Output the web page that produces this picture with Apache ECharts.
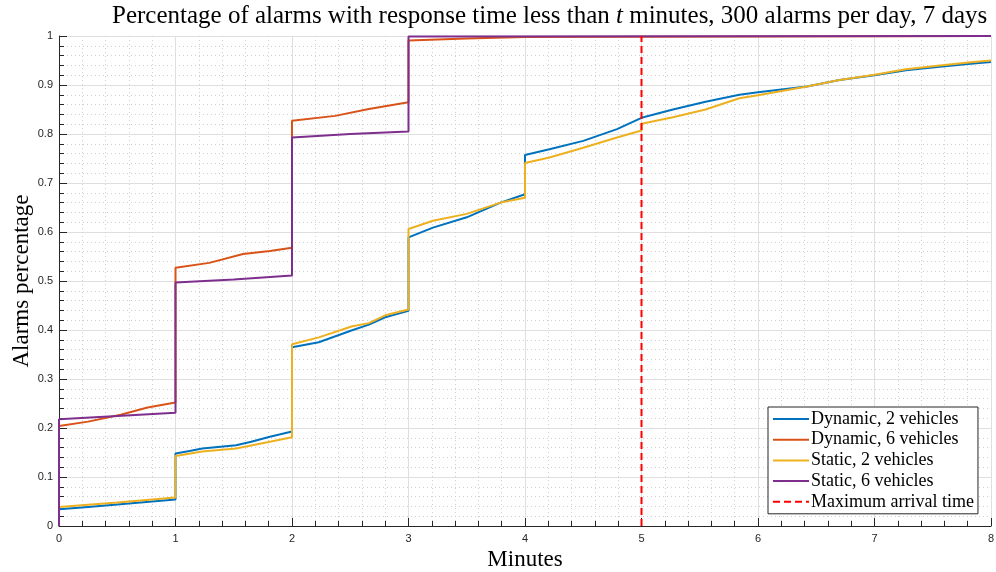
<!DOCTYPE html>
<html>
<head>
<meta charset="utf-8">
<script src="https://cdn.jsdelivr.net/npm/echarts@6/dist/echarts.min.js"></script>
<style>html,body{margin:0;padding:0;background:#fff}#c{width:996px;height:572px}</style>
</head>
<body>
<div id="c"></div>
<script>
const seriesNames = ['Dynamic, 2 vehicles','Dynamic, 6 vehicles','Static, 2 vehicles','Static, 6 vehicles','Maximum arrival time'];
const xTicks = [0,1,2,3,4,5,6,7,8];
const yTicks = [0,0.1,0.2,0.3,0.4,0.5,0.6,0.7,0.8,0.9,1];

const dynamic2 = [[0,0],[0,0.034],[0.25,0.039],[0.5,0.044],[0.75,0.049],[1,0.054],[1,0.148],[1.12,0.153],[1.23,0.158],[1.52,0.165],[1.65,0.172],[1.81,0.182],[2,0.193],[2,0.365],[2.23,0.375],[2.51,0.399],[2.66,0.411],[2.8,0.426],[3,0.439],[3,0.589],[3.21,0.609],[3.5,0.63],[3.79,0.66],[4,0.677],[4,0.757],[4.21,0.769],[4.5,0.786],[4.79,0.81],[5,0.833],[5.27,0.85],[5.55,0.866],[5.84,0.88],[6,0.885],[6.42,0.897],[6.7,0.91],[7,0.92],[7.27,0.93],[7.56,0.937],[7.85,0.944],[8,0.947]];
const dynamic6 = [[0,0],[0,0.204],[0.25,0.213],[0.53,0.227],[0.76,0.242],[1,0.252],[1,0.527],[1.29,0.537],[1.58,0.555],[1.81,0.561],[2,0.568],[2,0.827],[2.37,0.837],[2.66,0.851],[3,0.865],[3,0.991],[3.5,0.995],[4,0.998],[4,1],[8,1]];
const static2 = [[0,0],[0,0.039],[0.5,0.048],[1,0.058],[1,0.143],[1.23,0.152],[1.52,0.158],[1.81,0.172],[2,0.181],[2,0.371],[2.23,0.385],[2.51,0.407],[2.66,0.414],[2.8,0.43],[3,0.442],[3,0.606],[3.21,0.623],[3.5,0.637],[3.79,0.66],[4,0.67],[4,0.741],[4.21,0.752],[4.5,0.772],[4.79,0.793],[5,0.807],[5,0.821],[5.27,0.834],[5.55,0.85],[5.84,0.873],[6,0.879],[6.3,0.892],[6.42,0.897],[6.7,0.91],[7,0.921],[7.27,0.932],[7.56,0.94],[7.85,0.947],[8,0.95]];
const static6 = [[0,0],[0,0.218],[1,0.231],[1,0.497],[1.5,0.503],[2,0.511],[2,0.793],[2.5,0.8],[3,0.805],[3,0.999],[8,1]];
const maxArrival = [[5,0],[5,1]];

const colors = ['#0072BD','#D95319','#EDB120','#7E2F8E','#FF0000'];
const dataSets = [dynamic2, dynamic6, static2, static6, maxArrival];

const chart = echarts.init(document.getElementById('c'), null, {renderer:'canvas'});
const serif = '"Liberation Serif", "DejaVu Serif", serif';
const sans = '"Liberation Sans", Arial, sans-serif';

chart.setOption({
  animation: false,
  backgroundColor: '#fff',
  title: {
    text: 'Percentage of alarms with response time less than {i|t} minutes, 300 alarms per day, 7 days',
    left: 107, top: -1,
    textStyle: {fontFamily: serif, fontSize: 25, fontWeight: 'normal', color: '#000',
      rich: {i: {fontFamily: serif, fontSize: 25, fontStyle: 'italic', color: '#000'}}}
  },
  legend: {
    orient: 'vertical',
    left: 768, top: 407,
    width: 210,
    padding: [3, 4, 3, 4],
    itemGap: 2.7,
    itemWidth: 36, itemHeight: 16,
    backgroundColor: '#fff',
    borderColor: '#262626', borderWidth: 1,
    borderRadius: 0,
    itemStyle: {opacity: 0},
    textStyle: {fontFamily: serif, fontSize: 18, lineHeight: 18, color: '#000', padding: [0,0,0,-3]},
    data: seriesNames
  },
  grid: {left: 59, right: 5, top: 36, bottom: 46, containLabel: false, outerBoundsMode: 'none'},
  xAxis: {
    type: 'value', min: xTicks[0], max: xTicks[xTicks.length-1], interval: 1,
    name: 'Minutes', nameLocation: 'middle', nameGap: 22, nameMoveOverlap: false,
    nameTextStyle: {fontFamily: serif, fontSize: 23, color: '#000'},
    axisLine: {show: true, lineStyle: {color: '#262626', width: 1}},
    axisTick: {show: true, inside: true, length: 8, lineStyle: {color: '#262626'}},
    minorTick: {show: true, splitNumber: 5, length: 5, lineStyle: {color: '#262626'}},
    axisLabel: {fontFamily: sans, fontSize: 11, color: '#262626', margin: 7},
    splitLine: {show: true, lineStyle: {color: '#dfdfdf', width: 1}},
    minorSplitLine: {show: true, lineStyle: {color: '#d0d0d0', width: 1, type: [1,3]}}
  },
  yAxis: {
    type: 'value', min: yTicks[0], max: yTicks[yTicks.length-1], interval: 0.1,
    name: 'Alarms percentage', nameLocation: 'middle', nameGap: 26, nameMoveOverlap: false,
    nameTextStyle: {fontFamily: serif, fontSize: 23, color: '#000'},
    axisLine: {show: true, lineStyle: {color: '#262626', width: 1}},
    axisTick: {show: true, inside: true, length: 8, lineStyle: {color: '#262626'}},
    minorTick: {show: true, splitNumber: 5, length: 5, lineStyle: {color: '#262626'}},
    axisLabel: {fontFamily: sans, fontSize: 11, color: '#262626', margin: 6,
      formatter: v => String(parseFloat(v.toFixed(2)))},
    splitLine: {show: true, lineStyle: {color: '#dfdfdf', width: 1}},
    minorSplitLine: {show: true, lineStyle: {color: '#d0d0d0', width: 1, type: [1,3]}}
  },
  series: seriesNames.map((n, i) => ({
    name: n, type: 'line', data: dataSets[i], showSymbol: false, symbol: 'none',
    clip: false, z: 3 + i,
    color: colors[i],
    lineStyle: {color: colors[i], width: 2, type: i === 4 ? [7,4] : 'solid'}
  }))
});
</script>
</body>
</html>
